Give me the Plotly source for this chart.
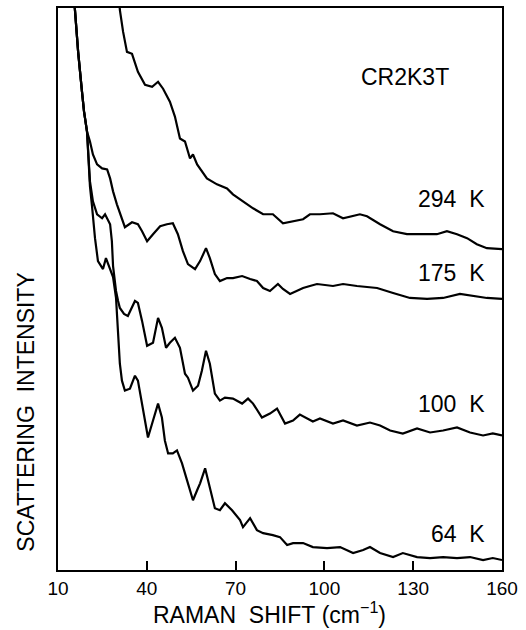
import plotly.graph_objects as go

# Raman shift (cm^-1) and scattering intensity (arbitrary units)
x_294 = [30.6, 30.9, 32.0, 33.3, 35.0, 37.0, 39.4, 41.8, 43.8, 45.5, 47.8, 49.5, 51.2, 52.9,
         54.6, 55.6, 57.0, 60.3, 63.7, 67.1, 69.1, 72.5, 75.9, 79.3, 82.6, 86.0, 89.4, 92.8,
         95.1, 98.5, 102.9, 106.3, 112.0, 114.4, 118.8, 123.2, 127.9, 133.3, 138.0, 141.4,
         144.8, 148.2, 151.5, 154.9, 160.0]
y_294 = [575, 562, 540, 520, 518, 500, 487, 485, 490, 483, 470, 455, 433, 430,
         413, 417, 407, 393, 387, 383, 377, 370, 363, 357, 357, 348, 350, 352,
         357, 357, 358, 353, 357, 355, 347, 340, 337, 337, 337, 340,
         337, 333, 327, 323, 322]

x_175 = [15.4, 15.7, 16.8, 18.1, 18.8, 19.8, 20.8, 21.8, 23.2, 24.9, 26.6, 27.6, 28.6, 29.9,
         32.6, 35.0, 37.0, 38.4, 40.1, 42.1, 44.5, 46.8, 48.8, 50.5, 52.2, 53.9, 56.3, 58.0,
         60.0, 61.3, 63.0, 64.7, 67.1, 69.1, 72.2, 74.9, 77.2, 79.3, 81.6, 84.3, 86.0, 88.4,
         90.7, 92.8, 95.1, 97.5, 102.9, 106.3, 111.0, 117.8, 123.2, 128.9, 134.7, 140.1,
         145.8, 150.2, 154.9, 160.0]
y_175 = [575, 562, 520, 480, 460, 440, 430, 417, 407, 403, 402, 393, 380, 367,
         344, 349, 347, 340, 330, 337, 345, 347, 348, 337, 320, 307, 302, 310,
         323, 313, 297, 290, 293, 293, 295, 292, 290, 283, 280, 287, 282, 277,
         280, 283, 285, 287, 285, 287, 285, 283, 278, 273, 272, 273,
         277, 275, 273, 272]

x_100 = [15.4, 15.7, 16.8, 18.1, 18.8, 19.8, 20.1, 20.8, 21.8, 23.2, 24.9, 25.9, 27.6, 28.2,
         28.6, 29.6, 30.3, 30.9, 32.3, 33.6, 36.0, 37.0, 38.4, 40.1, 42.1, 43.8, 45.1, 46.5,
         47.8, 49.5, 51.2, 52.9, 53.9, 55.6, 57.3, 58.6, 60.0, 61.3, 63.0, 64.7, 66.4, 69.1,
         72.2, 74.2, 75.9, 78.9, 81.6, 84.0, 86.7, 89.4, 91.7, 94.1, 96.1, 98.5, 102.9,
         106.3, 111.0, 115.4, 118.8, 122.2, 126.5, 131.3, 135.7, 140.1, 144.8, 149.2,
         153.6, 156.9, 160.0]
y_100 = [575, 562, 520, 480, 460, 440, 420, 390, 370, 357, 353, 357, 347, 330,
         305, 280, 270, 263, 257, 255, 270, 268, 250, 225, 228, 253, 243, 223,
         228, 233, 223, 197, 193, 180, 185, 200, 220, 207, 177, 170, 173, 172,
         167, 172, 167, 153, 157, 162, 147, 150, 156, 152, 149, 152, 147,
         150, 145, 148, 145, 140, 137, 142, 138, 140, 143, 138,
         135, 137, 135]

x_64 = [15.4, 15.7, 16.8, 18.1, 18.8, 19.8, 20.1, 20.8, 21.5, 22.5, 23.5, 25.2, 26.2, 27.6,
        28.6, 29.6, 30.3, 30.9, 31.6, 32.6, 34.3, 36.0, 37.0, 38.7, 40.4, 42.1, 43.8, 45.1,
        46.1, 47.2, 48.8, 50.2, 51.9, 53.6, 55.6, 57.0, 58.0, 59.7, 61.3, 63.0, 64.7, 66.4,
        68.8, 71.5, 72.5, 74.9, 77.2, 79.3, 82.6, 85.0, 87.4, 89.4, 92.8, 96.1, 100.9,
        105.3, 109.7, 113.1, 115.4, 118.8, 123.2, 126.5, 131.3, 135.7, 140.1, 144.8,
        149.2, 153.6, 156.9, 160.0]
y_64 = [575, 562, 520, 480, 460, 440, 420, 385, 365, 333, 310, 302, 313, 302,
        294, 273, 240, 207, 190, 180, 182, 195, 190, 160, 133, 150, 167, 153,
        130, 117, 117, 120, 107, 90, 70, 80, 87, 102, 83, 62, 60, 67,
        60, 50, 43, 52, 40, 37, 35, 33, 25, 27, 27, 23, 22,
        23, 17, 20, 23, 17, 13, 17, 13, 12, 13, 12,
        13, 10, 12, 10]

series = [("294 K", x_294, y_294), ("175 K", x_175, y_175),
          ("100 K", x_100, y_100), ("64 K", x_64, y_64)]
label_y = {"294 K": 372, "175 K": 298, "100 K": 167, "64 K": 36}
x_ticks = [10, 40, 70, 100, 130, 160]

FONT = "Liberation Sans, Arial, Helvetica, sans-serif"

fig = go.Figure()
for name, xs, ys in series:
    fig.add_trace(go.Scatter(x=xs, y=ys, mode="lines", name=name,
                             line=dict(color="black", width=2.2)))
    fig.add_annotation(x=155, y=label_y[name], text=name.replace(" ", "\u00a0\u00a0"),
                       xanchor="right", yanchor="middle", showarrow=False,
                       font=dict(family=FONT, size=23, color="black"))

fig.add_annotation(x=127.2, y=495, text="CR2K3T", xanchor="center", yanchor="middle",
                   showarrow=False, font=dict(family=FONT, size=23, color="black"))

fig.add_annotation(xref="paper", yref="paper", x=0.477, y=-0.046,
                   text="RAMAN\u00a0\u00a0SHIFT\u00a0(cm<sup>\u22121</sup>)",
                   xanchor="center", yanchor="top", showarrow=False,
                   font=dict(family=FONT, size=23, color="black"))
fig.add_annotation(xref="paper", yref="paper", x=-0.072, y=0.28,
                   text="SCATTERING\u00a0\u00a0INTENSITY", textangle=-90,
                   xanchor="center", yanchor="middle", showarrow=False,
                   font=dict(family=FONT, size=23, color="black"))

fig.update_layout(
    width=526, height=630,
    margin=dict(l=58, r=24, t=6, b=60),
    paper_bgcolor="white", plot_bgcolor="white",
    showlegend=False,
    font=dict(family=FONT, color="black"),
)
fig.update_xaxes(range=[10, 160], tickvals=x_ticks, ticks="inside", ticklen=9,
                 tickwidth=2, tickcolor="black", showline=True, mirror=True,
                 linecolor="black", linewidth=2, showgrid=False, zeroline=False,
                 tickfont=dict(family=FONT, size=19, color="black"))
fig.update_yaxes(range=[0, 564], showticklabels=False, ticks="", showline=True,
                 mirror=True, linecolor="black", linewidth=2, showgrid=False,
                 zeroline=False)

fig.write_html("out.html", config={"displayModeBar": False},
               post_script="document.body.style.margin='0';document.body.style.overflow='hidden';")
